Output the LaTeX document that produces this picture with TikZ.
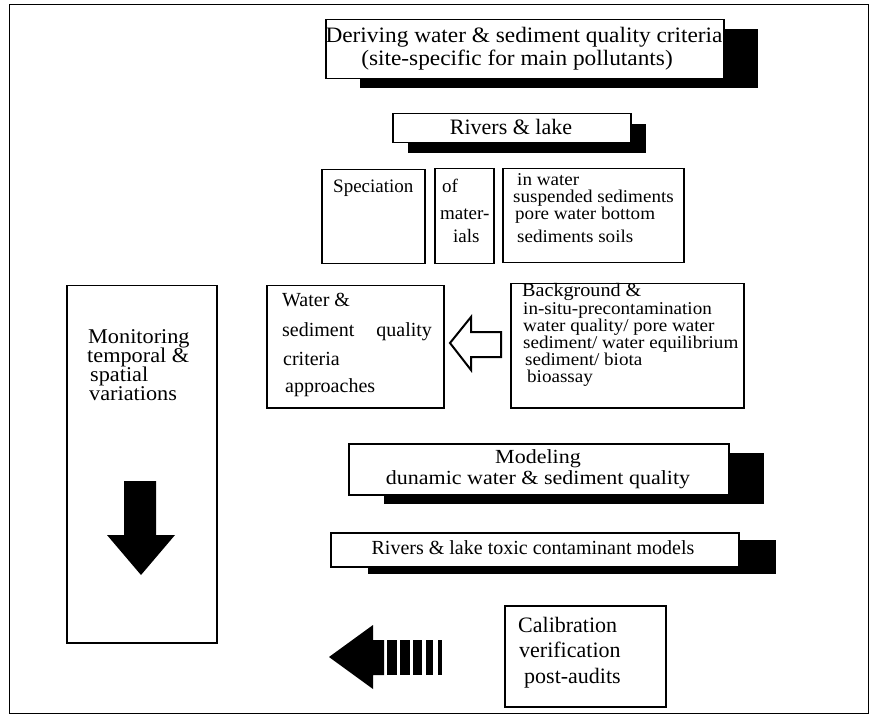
\documentclass[tikz,border=0pt]{standalone}
\usepackage{fontspec}
\setmainfont{Liberation Serif}
\newfontfamily\wideserif[FakeStretch=1.06]{Liberation Serif}
\newfontfamily\widerserif[FakeStretch=1.1]{Liberation Serif}
\usetikzlibrary{shadows}
\newcommand\tline[5][txt]{\node[#1] (#2) at (#3,#4) {#5};}
\begin{document}
\begin{tikzpicture}[x=1pt,y=-1pt,
  boxline/.style={draw, line width=1.5pt, fill=white, inner sep=0pt, anchor=north west},
  txt/.style={inner sep=0pt, anchor=base west, font=\fontsize{19}{19}\selectfont},
  txtc/.style={inner sep=0pt, anchor=base, font=\fontsize{19}{19}\selectfont},
  big/.style={font=\fontsize{22}{22}\selectfont},
  small/.style={font=\wideserif\fontsize{18}{18}\selectfont},
  blackfill/.style={fill=black, draw=none}]
\useasboundingbox (0,0) rectangle (876,722);
% outer frame
\node[draw, line width=1pt, inner sep=0pt, anchor=north west, minimum width=859pt, minimum height=709pt] (frame) at (9,4) {};

% top box
\node[boxline, minimum width=398pt, minimum height=59pt,
      drop shadow={shadow xshift=34pt, shadow yshift=-9pt, fill=black, opacity=1}] (top) at (325,19) {};
\tline[txtc,font=\wideserif\fontsize{22}{22}\selectfont]{top1}{524}{43}{Deriving water \& sediment quality criteria}
\tline[txtc,font=\wideserif\fontsize{22}{22}\selectfont]{top2}{517}{66}{(site-specific for main pollutants)}

% rivers & lake
\node[boxline, minimum width=238pt, minimum height=29pt,
      drop shadow={shadow xshift=15pt, shadow yshift=-10pt, fill=black, opacity=1}] (rivers) at (392,113) {};
\tline[txtc,big]{riv1}{511}{135}{Rivers \& lake}

% speciation row
\node[boxline, minimum width=103pt, minimum height=94pt] (spec) at (321,169) {};
\tline{spec1}{333}{193}{Speciation}
\node[boxline, minimum width=59pt, minimum height=95pt] (ofm) at (434,168) {};
\tline{ofm1}{442}{193}{of}
\tline{ofm2}{440}{220}{mater-}
\tline{ofm3}{453}{243}{ials}
\node[boxline, minimum width=181pt, minimum height=94pt] (media) at (502,168) {};
\tline[txt,small]{med1}{517}{186}{in water}
\tline[txt,small]{med2}{513}{203}{suspended sediments}
\tline[txt,small]{med3}{515}{220}{pore water bottom}
\tline[txt,small]{med4}{517}{243}{sediments soils}

% water & sediment quality criteria
\node[boxline, minimum width=177pt, minimum height=122pt] (water) at (266,285) {};
\tline[txt,font=\fontsize{20}{20}\selectfont]{wat1}{282}{307}{Water \&}
\tline[txt,font=\fontsize{20}{20}\selectfont]{wat2}{282}{337}{sediment\hspace{22pt}quality}
\tline[txt,font=\fontsize{20}{20}\selectfont]{wat3}{283}{365}{criteria}
\tline[txt,font=\fontsize{20}{20}\selectfont]{wat4}{285}{392}{approaches}

% background
\node[boxline, minimum width=233pt, minimum height=124pt] (backg) at (510,283) {};
\tline[txt,font=\wideserif\fontsize{19}{19}\selectfont]{bg1}{522}{297}{Background \&}
\tline[txt,small]{bg2}{523}{314}{in-situ-precontamination}
\tline[txt,small]{bg3}{523}{331}{water quality/ pore water}
\tline[txt,small]{bg4}{523}{348}{sediment/ water equilibrium}
\tline[txt,small]{bg5}{525}{365}{sediment/ biota}
\tline[txt,small]{bg6}{527}{382}{bioassay}

% hollow arrow (background -> water)
\draw[line width=2pt, line join=miter, fill=white]
  (501,332) -- (471,332) -- (471,317) -- (450,343) -- (471,370) -- (471,357) -- (501,357) -- cycle;

% monitoring
\node[boxline, minimum width=150pt, minimum height=357pt] (monit) at (66,285) {};
\tline[txt,font=\wideserif\fontsize{21}{21}\selectfont]{mon1}{88}{343}{Monitoring}
\tline[txt,font=\wideserif\fontsize{21}{21}\selectfont]{mon2}{87}{362}{temporal \&}
\tline[txt,font=\wideserif\fontsize{21}{21}\selectfont]{mon3}{90}{381}{spatial}
\tline[txt,font=\wideserif\fontsize{21}{21}\selectfont]{mon4}{89}{400}{variations}
\fill[blackfill] (124,481) -- (156,481) -- (156,535) -- (175,535) -- (141,575) -- (107,535) -- (124,535) -- cycle;

% modeling
\node[boxline, minimum width=380pt, minimum height=51pt,
      drop shadow={shadow xshift=35pt, shadow yshift=-9pt, fill=black, opacity=1}] (model) at (348,443) {};
\tline[txtc,font=\widerserif\fontsize{20}{20}\selectfont]{mod1}{538}{463}{Modeling}
\tline[txtc,font=\widerserif\fontsize{20}{20}\selectfont]{mod2}{538}{484}{dunamic water \& sediment quality}

% toxic models
\node[boxline, minimum width=408pt, minimum height=34pt,
      drop shadow={shadow xshift=37pt, shadow yshift=-7pt, fill=black, opacity=1}] (toxic) at (330,532) {};
\tline[txtc,font=\fontsize{20}{20}\selectfont]{tox1}{533}{554}{Rivers \& lake toxic contaminant models}

% calibration
\node[boxline, minimum width=161pt, minimum height=101pt] (calib) at (504,605) {};
\tline[txt,big]{cal1}{518}{632}{Calibration}
\tline[txt,big]{cal2}{519}{657}{verification}
\tline[txt,big]{cal3}{524}{683}{post-audits}

% black striped left arrow
\fill[blackfill] (329,657) -- (373,625) -- (373,640) -- (384,640) -- (384,675) -- (373,675) -- (373,689) -- cycle;
\fill[blackfill] (387,640) rectangle (397,675);
\fill[blackfill] (400,640) rectangle (410,675);
\fill[blackfill] (413,640) rectangle (422,675);
\fill[blackfill] (426,640) rectangle (433,675);
\fill[blackfill] (438,640) rectangle (442,675);
\end{tikzpicture}
\end{document}
